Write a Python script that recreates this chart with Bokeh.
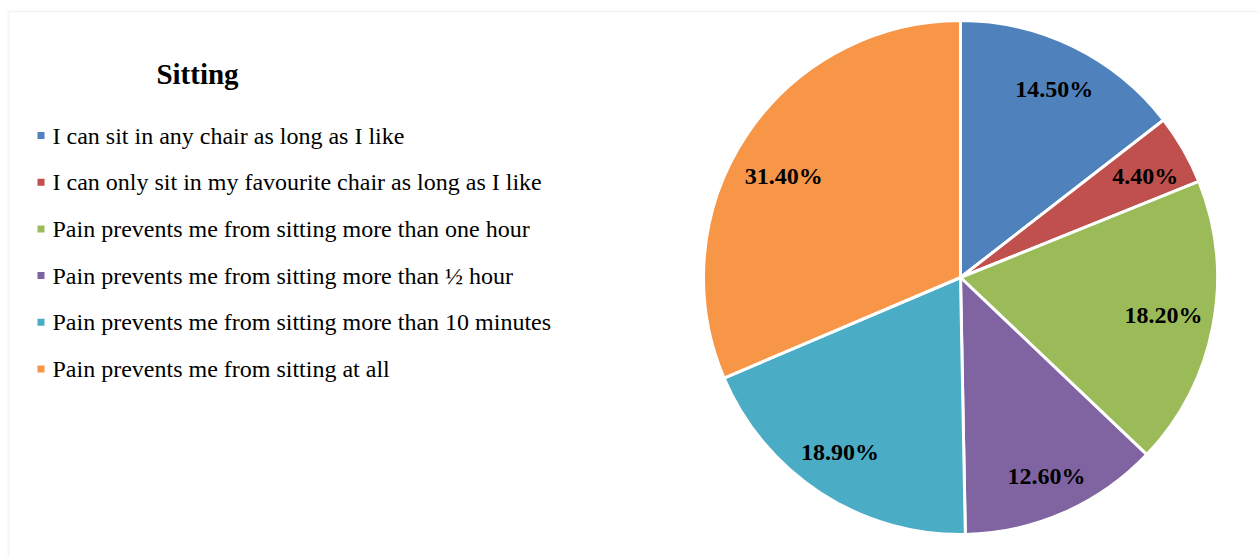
import math
from bokeh.plotting import figure
from bokeh.models import Range1d, BoxAnnotation, ColumnDataSource
from bokeh.core.properties import value
from bokeh.embed import file_html
from bokeh.resources import INLINE

title = "Sitting"
categories = [
    "I can sit in any chair as long as I like",
    "I can only sit in my favourite chair as long as I like",
    "Pain prevents me from sitting more than one hour",
    "Pain prevents me from sitting more than \u00bd hour",
    "Pain prevents me from sitting more than 10 minutes",
    "Pain prevents me from sitting at all",
]
percentages = [14.5, 4.4, 18.2, 12.6, 18.9, 31.4]
colors = ["#4F81BD", "#C0504D", "#9BBB59", "#8064A2", "#4BACC6", "#F79646"]
# label placement nudges in screen pixels (dx right, dy up)
label_nudge_x = [1, 2, -4, 1, -6, -1]
label_nudge_y = [-1, -3, 2, -6, 2, -15]

W, H = 1259, 556
p = figure(width=W, height=H, output_backend="svg", toolbar_location=None,
           x_range=Range1d(0, W), y_range=Range1d(0, H), min_border=0)
p.axis.visible = False
p.grid.visible = False
p.outline_line_color = None
p.background_fill_color = "white"
p.border_fill_color = "white"

# frame
p.add_layout(BoxAnnotation(left=8, right=W + 50, top=H - 11, bottom=-50,
                           fill_alpha=0, line_color="#d9d9d9", line_width=2))

# pie
cx, cy, R = 960, H - 277, 257
total = sum(percentages)
starts, ends, lx, ly, labels = [], [], [], [], []
cum = 0.0
for i, v in enumerate(percentages):
    a0 = math.pi / 2 - 2 * math.pi * cum / total
    cum += v
    a1 = math.pi / 2 - 2 * math.pi * cum / total
    starts.append(a0)
    ends.append(a1)
    mid = (a0 + a1) / 2
    lx.append(cx + 0.82 * R * math.cos(mid) + label_nudge_x[i])
    ly.append(cy + 0.82 * R * math.sin(mid) + label_nudge_y[i])
    labels.append(f"{v:.2f}%")

src = ColumnDataSource(dict(start=starts, end=ends, color=colors, lx=lx, ly=ly, label=labels))
p.wedge(x=cx, y=cy, radius=R, start_angle="start", end_angle="end", direction="clock",
        fill_color="color", line_color="white", line_width=3, source=src)
p.text(x="lx", y="ly", text="label", source=src, text_align="center", text_baseline="middle",
       text_font=value("Liberation Serif"), text_font_style="bold", text_font_size="24px",
       text_color="black")

# title
p.text(x=[197], y=[H - 73], text=[title], text_align="center", text_baseline="middle",
       text_font=value("Liberation Serif"), text_font_style="bold", text_font_size="29px",
       text_color="black")

# legend
row0, step = 135, 46.7
ly_leg = [H - (row0 + i * step) for i in range(len(categories))]
leg = ColumnDataSource(dict(y=ly_leg, cat=categories, color=colors))
p.scatter(x=40.5, y="y", marker="square", size=7, fill_color="color", line_color=None, source=leg)
p.text(x=52, y="y", text="cat", source=leg, text_align="left", text_baseline="middle",
       text_font=value("Liberation Serif"), text_font_size="24px", text_color="black")

open("out.html", "w").write(file_html(p, INLINE))
